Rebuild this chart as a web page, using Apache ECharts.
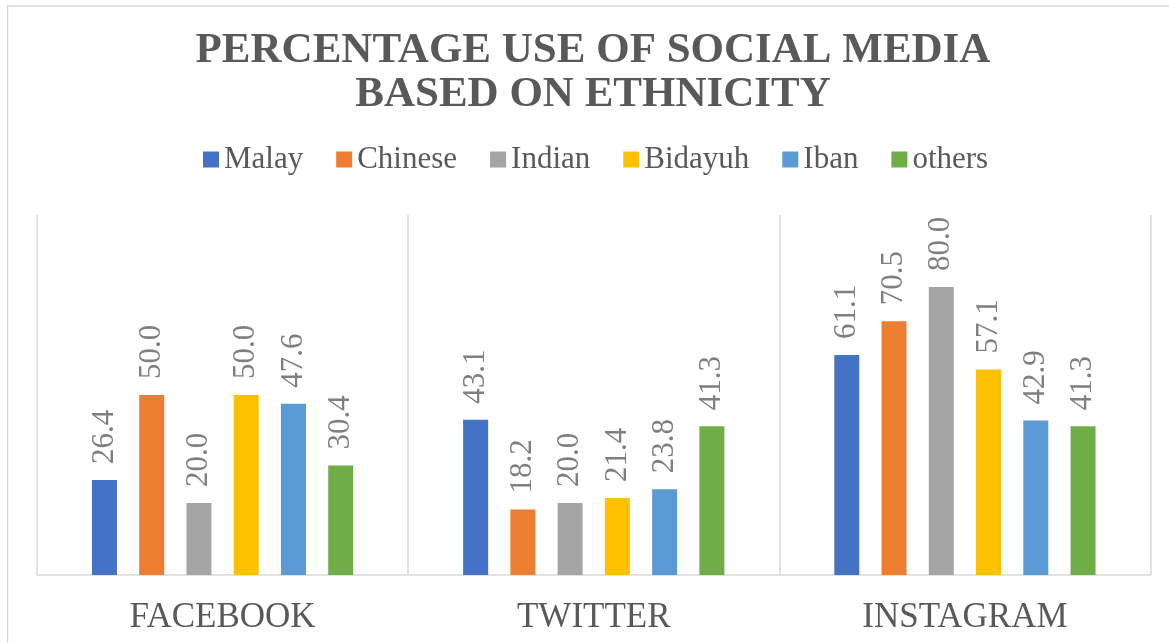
<!DOCTYPE html>
<html>
<head>
<meta charset="utf-8">
<script src="https://cdn.jsdelivr.net/npm/echarts@6/dist/echarts.min.js"></script>
<style>
html,body{margin:0;padding:0;background:#fff;overflow:hidden;}
#chart{width:1169px;height:643px;}
</style>
</head>
<body>
<div id="chart"></div>
<script>
const titleText = 'PERCENTAGE USE OF SOCIAL MEDIA\nBASED ON ETHNICITY';
const categories = ['FACEBOOK', 'TWITTER', 'INSTAGRAM'];
const seriesNames = ['Malay', 'Chinese', 'Indian', 'Bidayuh', 'Iban', 'others'];
const malay = [26.4, 43.1, 61.1];
const chinese = [50.0, 18.2, 70.5];
const indian = [20.0, 20.0, 80.0];
const bidayuh = [50.0, 21.4, 57.1];
const iban = [47.6, 23.8, 42.9];
const others = [30.4, 41.3, 41.3];
const colors = ['#4472C4', '#ED7D31', '#A5A5A5', '#FFC000', '#5B9BD5', '#70AD47'];

const seriesData = [malay, chinese, indian, bidayuh, iban, others];
const FONT = '"Liberation Serif", "Times New Roman", serif';

const chart = echarts.init(document.getElementById('chart'), null, {renderer: 'canvas'});
chart.setOption({
  animation: false,
  backgroundColor: '#ffffff',
  color: colors,
  graphic: [{
    type: 'rect',
    shape: {x: 7.5, y: 6, width: 1300, height: 700},
    style: {fill: 'none', stroke: '#d9d9d9', lineWidth: 1.5},
    silent: true,
    z: -10
  }],
  title: {
    text: titleText,
    left: 588,
    top: 24,
    textAlign: 'center',
    textStyle: {
      fontFamily: FONT,
      fontWeight: 'bold',
      fontSize: 43,
      lineHeight: 44,
      color: '#595959'
    }
  },
  legend: {
    data: seriesNames,
    left: 198,
    top: 139,
    icon: 'rect',
    itemWidth: 16,
    itemHeight: 16,
    itemGap: 33,
    textStyle: {
      fontFamily: FONT,
      fontSize: 31,
      color: '#595959'
    }
  },
  grid: {
    left: 37,
    right: 18.5,
    top: 215,
    bottom: 68,
    containLabel: false
  },
  xAxis: {
    type: 'category',
    data: categories,
    axisLine: {show: true, lineStyle: {color: '#d9d9d9', width: 1.5}},
    axisTick: {show: false},
    splitLine: {show: true, lineStyle: {color: '#d9d9d9', width: 1.5}},
    axisLabel: {
      margin: 25,
      fontFamily: FONT,
      fontSize: 35,
      color: '#595959'
    }
  },
  yAxis: {
    type: 'value',
    min: 0,
    max: 100,
    show: false,
    splitLine: {show: false}
  },
  series: seriesNames.map((name, i) => ({
    name: name,
    type: 'bar',
    data: seriesData[i],
    barWidth: 25,
    barGap: '89%',
    itemStyle: {color: colors[i]},
    label: {
      show: true,
      position: 'top',
      rotate: 90,
      align: 'left',
      verticalAlign: 'middle',
      distance: 16,
      fontFamily: FONT,
      fontSize: 31,
      color: '#7f7f7f',
      formatter: p => p.value.toFixed(1)
    }
  }))
});
</script>
</body>
</html>
